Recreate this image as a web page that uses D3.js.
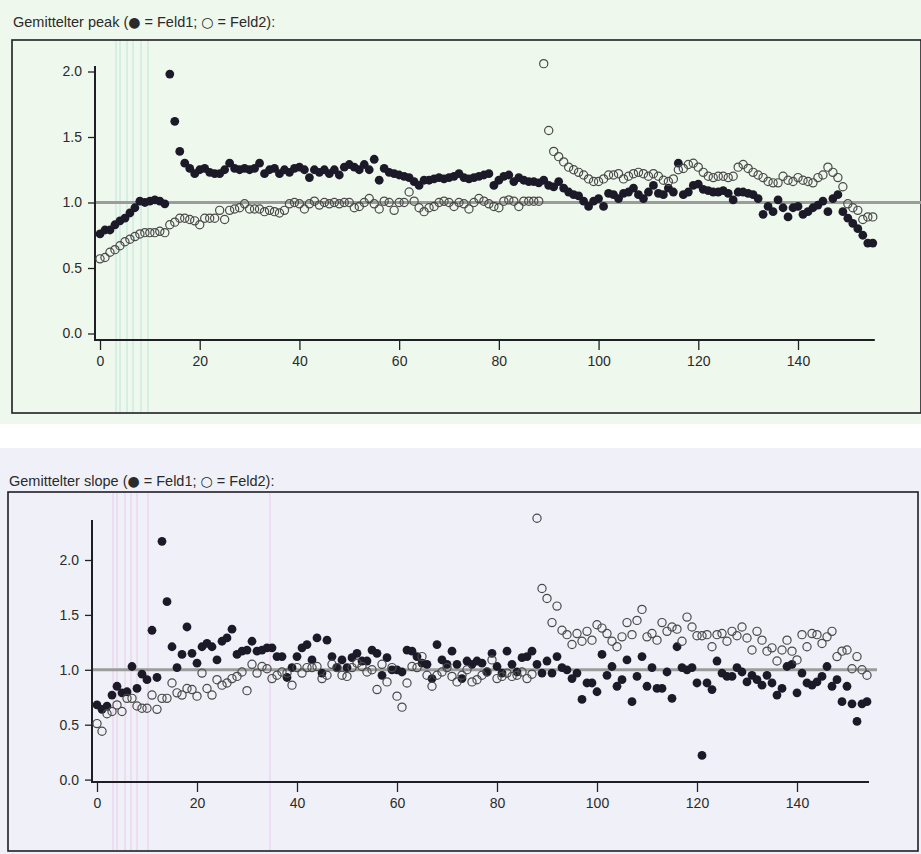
<!DOCTYPE html>
<html lang="de">
<head>
<meta charset="UTF-8">
<title>Gemittelter peak / slope</title>
<script src="https://cdnjs.cloudflare.com/ajax/libs/d3/7.8.5/d3.min.js"></script>
<style>
  body { margin: 0; background: #fff; }
  svg { display: block; font-family: "Liberation Sans", Arial, sans-serif; }
  .tick text { font-size: 14px; fill: #2a2a2a; }
  .tick line { stroke: #222; stroke-width: 1.3; }
  .title { font-size: 14.5px; fill: #2a2a2a; }
  .glyph { font-family: "DejaVu Sans", sans-serif; font-size: 14px; }
</style>
</head>
<body>
<script>
// values, index 0..n-1
const peakFeld1 = [0.76,0.79,0.79,0.83,0.86,0.88,0.92,0.96,1.01,1.00,1.01,1.02,1.01,0.99,1.98,1.62,1.39,1.30,1.26,1.22,
  1.25,1.26,1.23,1.22,1.22,1.25,1.30,1.26,1.25,1.26,1.25,1.26,1.30,1.22,1.25,1.26,1.22,1.25,1.23,1.26,
  1.27,1.25,1.19,1.25,1.23,1.25,1.22,1.25,1.21,1.27,1.29,1.27,1.25,1.29,1.25,1.33,1.17,1.26,1.23,1.22,
  1.21,1.20,1.19,1.16,1.13,1.17,1.17,1.18,1.19,1.18,1.19,1.20,1.22,1.19,1.18,1.19,1.20,1.21,1.22,1.13,
  1.17,1.20,1.21,1.16,1.19,1.17,1.16,1.16,1.15,1.17,1.13,1.12,1.16,1.11,1.08,1.06,1.05,1.01,0.97,1.01,
  1.03,0.97,1.07,1.06,1.03,1.07,1.08,1.11,1.06,1.03,1.08,1.13,1.07,1.06,1.11,1.08,1.30,1.06,1.08,1.13,
  1.14,1.10,1.09,1.08,1.08,1.09,1.07,1.02,1.08,1.08,1.07,1.06,1.03,0.91,0.97,0.93,1.02,0.96,0.89,0.96,
  0.97,0.91,0.93,0.96,0.98,1.01,0.93,1.03,1.06,0.93,0.88,0.84,0.80,0.75,0.69,0.69];
const peakFeld2 = [0.57,0.58,0.62,0.64,0.67,0.70,0.72,0.74,0.76,0.77,0.77,0.77,0.78,0.77,0.83,0.85,0.88,0.88,0.87,0.86,
  0.83,0.88,0.88,0.88,0.94,0.87,0.94,0.95,0.96,0.99,0.95,0.95,0.95,0.93,0.94,0.93,0.92,0.94,0.99,1.00,
  0.99,0.95,0.99,1.01,0.98,1.00,0.99,1.00,0.99,1.00,1.00,0.96,0.97,1.00,1.03,0.99,0.95,1.01,1.00,0.94,
  1.00,1.00,1.08,1.01,0.96,0.93,0.96,0.97,1.00,1.01,1.00,0.97,1.00,0.99,0.95,1.00,1.03,1.01,0.99,0.97,
  0.96,1.01,1.02,1.01,0.97,1.01,1.01,1.01,1.01,2.06,1.55,1.39,1.35,1.31,1.27,1.25,1.23,1.21,1.18,1.16,
  1.16,1.18,1.21,1.21,1.22,1.18,1.20,1.22,1.23,1.22,1.20,1.22,1.20,1.17,1.16,1.18,1.25,1.26,1.29,1.30,
  1.27,1.23,1.20,1.19,1.20,1.20,1.19,1.20,1.27,1.29,1.26,1.23,1.21,1.19,1.16,1.15,1.15,1.20,1.17,1.16,
  1.19,1.17,1.16,1.15,1.19,1.21,1.27,1.23,1.19,1.12,0.99,0.96,0.94,0.87,0.89,0.89];
const slopeFeld1 = [0.68,0.64,0.67,0.77,0.85,0.79,0.80,1.03,0.83,0.96,0.91,1.36,0.93,2.17,1.62,1.21,1.02,1.14,1.39,1.15,
  1.06,1.21,1.24,1.21,1.09,1.26,1.29,1.37,1.14,1.17,1.18,1.26,1.17,1.18,1.20,1.20,1.12,1.12,0.93,1.02,
  1.12,1.20,1.23,1.09,1.29,0.97,1.27,1.12,1.02,1.09,1.02,1.11,1.15,1.08,1.08,1.18,1.15,0.95,1.11,1.00,
  1.00,0.98,1.18,1.17,1.12,1.06,1.05,0.92,1.23,1.09,1.05,1.17,1.05,0.92,1.08,1.05,1.08,1.06,0.98,1.15,
  1.03,0.97,1.17,1.05,0.98,1.11,1.12,1.17,1.05,0.97,1.08,0.97,1.12,1.02,1.00,0.92,0.97,0.73,0.88,0.88,
  0.80,1.14,0.95,1.03,0.85,0.91,1.09,0.71,0.94,1.12,0.85,1.02,0.83,0.83,0.98,0.74,1.21,1.02,1.00,1.02,
  0.88,0.22,0.88,0.82,1.08,0.97,0.94,0.94,1.02,0.98,0.89,0.95,0.91,0.86,0.95,0.88,0.77,0.83,1.03,1.05,
  0.79,0.97,0.88,0.86,0.89,0.94,1.03,0.85,0.91,0.71,0.85,0.69,0.53,0.69,0.71];
const slopeFeld2 = [0.51,0.44,0.60,0.62,0.68,0.62,0.74,0.74,0.67,0.65,0.65,0.77,0.64,0.74,0.74,0.88,0.79,0.77,0.83,0.82,
  0.76,0.97,0.83,0.77,0.91,0.86,0.88,0.92,0.94,0.98,0.81,1.05,0.97,1.03,1.01,0.92,0.95,0.98,0.97,0.86,
  1.02,0.97,1.02,1.02,1.03,0.92,0.95,1.05,1.02,0.95,0.94,1.02,1.06,1.03,0.98,1.00,0.82,1.05,0.89,1.02,
  0.76,0.66,0.88,1.03,1.02,1.12,0.95,0.85,0.95,0.98,1.02,0.94,0.89,0.95,1.00,0.89,0.91,0.95,0.98,1.09,
  0.92,0.94,0.97,0.94,0.95,0.98,0.92,0.96,2.38,1.74,1.65,1.43,1.58,1.36,1.32,1.23,1.33,1.26,1.35,1.27,
  1.41,1.38,1.33,1.26,1.21,1.30,1.43,1.32,1.45,1.55,1.30,1.33,1.27,1.43,1.35,1.39,1.37,1.26,1.48,1.39,
  1.31,1.31,1.32,1.21,1.32,1.33,1.26,1.35,1.31,1.39,1.29,1.18,1.35,1.27,1.17,1.20,1.08,1.18,1.27,1.17,
  1.09,1.32,1.21,1.33,1.32,1.24,1.30,1.35,1.12,1.17,1.18,1.01,1.12,1.00,0.95];

const yTicks = [0, 0.5, 1, 1.5, 2];
const xTicks = [0, 20, 40, 60, 80, 100, 120, 140];
const titles = ["Gemittelter peak", "Gemittelter slope"];

const svg = d3.select("body").append("svg")
  .attr("width", 921)
  .attr("height", 854);

const panels = [
  { title: titles[0], f1: peakFeld1, f2: peakFeld2, bg: "#eff8ec", bgTop: 0, bgBot: 424,
    frame: [12, 40, 921, 413], titleY: 27, xr: [100, 798], yr: [333.5, 71.5],
    axX: 95, axY: 340, axTop: 66, refEnd: 921, streak: "#8fd9d0", streaks: [116, 120, 127, 133, 141, 148] },
  { title: titles[1], f1: slopeFeld1, f2: slopeFeld2, bg: "#f0f1f8", bgTop: 448, bgBot: 854,
    frame: [8, 492, 918, 851], titleY: 486, xr: [97, 797], yr: [779.6, 560],
    axX: 92, axY: 782, axTop: 520, refEnd: 877, streak: "#e6a8dc", streaks: [113, 117, 125, 131, 137, 148, 270] }
];

panels.forEach(p => {
  const g = svg.append("g");

  g.append("rect")
    .attr("x", 0).attr("y", p.bgTop)
    .attr("width", 921).attr("height", p.bgBot - p.bgTop)
    .attr("fill", p.bg);

  // faint scanner streaks
  g.selectAll("line.streak")
    .data(p.streaks)
    .enter().append("line")
    .attr("class", "streak")
    .attr("x1", d => d).attr("x2", d => d)
    .attr("y1", p.frame[1]).attr("y2", p.frame[3])
    .attr("stroke", p.streak)
    .attr("stroke-width", 1.2)
    .attr("opacity", 0.45);

  g.append("rect")
    .attr("x", p.frame[0]).attr("y", p.frame[1])
    .attr("width", p.frame[2] - p.frame[0]).attr("height", p.frame[3] - p.frame[1])
    .attr("fill", "none")
    .attr("stroke", "#1e1e24")
    .attr("stroke-width", 1.6);

  const t = g.append("text")
    .attr("class", "title")
    .attr("x", p.frame[0] + 1).attr("y", p.titleY);
  t.append("tspan").text(p.title + " (");
  t.append("tspan").attr("class", "glyph").text("\u25CF");
  t.append("tspan").text(" = Feld1; ");
  t.append("tspan").attr("class", "glyph").text("\u25CB");
  t.append("tspan").text("  = Feld2):");

  const x = d3.scaleLinear().domain([0, 140]).range(p.xr);
  const y = d3.scaleLinear().domain([0, 2]).range(p.yr);
  const n = Math.max(p.f1.length, p.f2.length);

  // reference line at 1.0
  g.append("line")
    .attr("x1", p.axX).attr("x2", p.refEnd)
    .attr("y1", y(1)).attr("y2", y(1))
    .attr("stroke", "#9c9c9c")
    .attr("stroke-width", 3);

  // axes
  const yAxis = d3.axisLeft(y)
    .tickValues(yTicks)
    .tickFormat(d3.format(".1f"))
    .tickSize(7)
    .tickPadding(6);
  g.append("g")
    .attr("transform", `translate(${p.axX},0)`)
    .call(yAxis)
    .call(a => a.select(".domain").remove());

  const xAxis = d3.axisBottom(x)
    .tickValues(xTicks)
    .tickSize(10)
    .tickPadding(6);
  g.append("g")
    .attr("transform", `translate(0,${p.axY})`)
    .call(xAxis)
    .call(a => a.select(".domain").remove());

  g.append("path")
    .attr("d", `M${p.axX},${p.axTop}V${p.axY}H${x(n - 0.6)}`)
    .attr("fill", "none")
    .attr("stroke", "#1e1e24")
    .attr("stroke-width", 2);

  g.selectAll(".tick text").attr("font-family", "Liberation Sans, Arial, sans-serif");

  // Feld1 filled
  g.append("g")
    .selectAll("circle")
    .data(p.f1)
    .enter().append("circle")
    .attr("cx", (d, i) => x(i))
    .attr("cy", d => y(d))
    .attr("r", 4.4)
    .attr("fill", "#1c1a28");

  // Feld2 open
  g.append("g")
    .selectAll("circle")
    .data(p.f2)
    .enter().append("circle")
    .attr("cx", (d, i) => x(i))
    .attr("cy", d => y(d))
    .attr("r", 4.1)
    .attr("fill", "none")
    .attr("stroke", "#4a4a4a")
    .attr("stroke-width", 1.2);
});
</script>
</body>
</html>
